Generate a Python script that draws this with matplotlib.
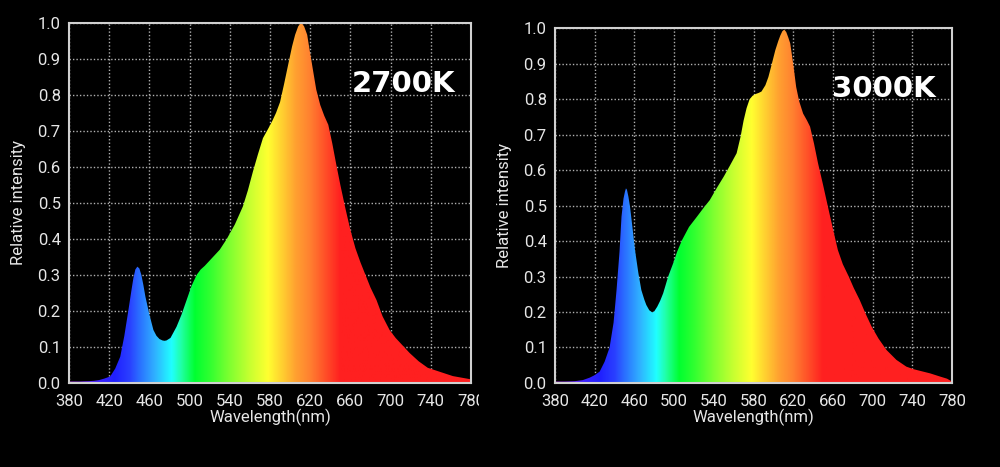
import numpy as np
import matplotlib
matplotlib.use("Agg")
import matplotlib.pyplot as plt
from matplotlib.colors import LinearSegmentedColormap
from matplotlib.patches import Polygon, Rectangle

# ---- data ----
wl_2700 = [380, 390, 400, 405, 410, 415, 421, 426, 431, 435, 439, 442, 444, 446, 448, 450,
           452, 454, 456, 460, 464, 467, 470, 473, 475, 477, 481, 487, 492, 497, 502, 507,
           511, 515, 524, 530, 537, 545, 553, 558, 563, 568, 573, 578, 582, 586, 590, 594,
           598, 602, 605, 608, 610, 611, 612, 614, 617, 620, 623, 626, 630, 634, 638, 642,
           646, 650, 655, 660, 665, 670, 675, 680, 686, 692, 699, 705, 710, 719, 728, 737,
           750, 762, 770, 780]
val_2700 = [0.004, 0.004, 0.005, 0.006, 0.008, 0.012, 0.018, 0.04, 0.073, 0.13, 0.20, 0.255,
            0.29, 0.315, 0.323, 0.318, 0.30, 0.272, 0.24, 0.19, 0.147, 0.131, 0.122, 0.118,
            0.117, 0.118, 0.125, 0.156, 0.19, 0.23, 0.27, 0.30, 0.315, 0.325, 0.352, 0.37,
            0.40, 0.44, 0.49, 0.535, 0.587, 0.635, 0.68, 0.705, 0.726, 0.75, 0.78, 0.83,
            0.883, 0.935, 0.967, 0.99, 0.998, 1.0, 0.998, 0.99, 0.967, 0.915, 0.865, 0.815,
            0.772, 0.742, 0.717, 0.665, 0.606, 0.55, 0.485, 0.425, 0.374, 0.335, 0.30, 0.265,
            0.23, 0.185, 0.147, 0.125, 0.11, 0.083, 0.06, 0.042, 0.03, 0.019, 0.015, 0.01]

wl_3000 = [380, 390, 400, 408, 415, 420, 425, 430, 435, 439, 442, 445, 447, 449, 450.5, 451.5,
           452.5, 454, 455.6, 458, 460.6, 464, 467, 470, 472, 475, 478, 480, 483, 486, 489,
           494, 499, 503, 508, 515, 523, 530, 536, 543, 550, 556, 563, 567, 570, 573, 576,
           579, 582, 585, 588, 592, 595, 598, 602, 605, 607, 609, 611, 613, 615, 617, 620,
           623, 626, 630, 634, 637, 641, 645, 650, 655, 660, 665, 670, 676, 681, 687, 693,
           699, 706, 714, 724, 734, 741, 748, 758, 768, 775, 780]
val_3000 = [0.004, 0.004, 0.005, 0.008, 0.015, 0.022, 0.032, 0.06, 0.10, 0.17, 0.262, 0.37,
            0.469, 0.52, 0.54, 0.549, 0.545, 0.525, 0.497, 0.44, 0.375, 0.31, 0.262, 0.235,
            0.22, 0.205, 0.199, 0.202, 0.215, 0.232, 0.253, 0.30, 0.337, 0.37, 0.403, 0.44,
            0.469, 0.495, 0.516, 0.55, 0.582, 0.612, 0.648, 0.695, 0.74, 0.775, 0.80, 0.81,
            0.815, 0.818, 0.822, 0.84, 0.863, 0.895, 0.939, 0.965, 0.98, 0.992, 0.997, 0.99,
            0.975, 0.958, 0.9, 0.835, 0.795, 0.76, 0.74, 0.723, 0.675, 0.62, 0.56, 0.497,
            0.435, 0.375, 0.335, 0.30, 0.268, 0.234, 0.195, 0.159, 0.125, 0.093, 0.065, 0.046,
            0.039, 0.034, 0.027, 0.018, 0.012, 0.004]

x_ticks = [380, 420, 460, 500, 540, 580, 620, 660, 700, 740, 780]
y_ticks = [0.0, 0.1, 0.2, 0.3, 0.4, 0.5, 0.6, 0.7, 0.8, 0.9, 1.0]
labels = ["2700K", "3000K"]

# spectral colour stops (wavelength, colour)
spec_wl = [380, 410, 425, 440, 450, 465, 482, 492, 505, 520, 540, 560, 578, 592, 606, 620, 635, 650, 780]
spec_col = ["#b040e0", "#3a20ff", "#2020ff", "#2a40ff", "#2a70ff", "#30b0ff", "#20ffff", "#20ffa0",
            "#00ff30", "#30ff30", "#80ff30", "#c8ff30", "#ffff30", "#ffd030", "#ffa030",
            "#ff8030", "#ff5028", "#ff2020", "#ff2020"]

cmap = LinearSegmentedColormap.from_list(
    "spec", [((w - 380) / 400, c) for w, c in zip(spec_wl, spec_col)], N=512)

fig = plt.figure(figsize=(10, 4.67), dpi=100, facecolor="black")
positions = [[0.069, 0.180, 0.402, 0.771], [0.555, 0.180, 0.397, 0.759]]
series = [(wl_2700, val_2700), (wl_3000, val_3000)]
label_pos = [(661, 0.83), (659, 0.83)]

tick_font = "Roboto"
txtcol = "#e6e6e6"

for pos, (wl, val), lab, lp in zip(positions, series, labels, label_pos):
    ax = fig.add_axes(pos)
    ax.set_facecolor("black")
    ax.set_xlim(380, 780)
    ax.set_ylim(0, 1.0)
    ax.set_xticks(x_ticks)
    ax.set_yticks(y_ticks)
    ax.set_xticklabels([str(t) for t in x_ticks], fontfamily=tick_font, fontsize=12, color=txtcol)
    ax.set_yticklabels([f"{t:.1f}" for t in y_ticks], fontfamily=tick_font, fontsize=12, color=txtcol)
    ax.tick_params(length=0, pad=6)
    ax.tick_params(axis="x", pad=8)
    ax.grid(True, color="#b0b0b0", linestyle=(0, (1, 1.5)), linewidth=1.0)
    ax.set_axisbelow(True)
    for s in ax.spines.values():
        s.set_color("#d0d0d0")
        s.set_linewidth(1.5)
        s.set_zorder(5)
    grad = np.linspace(0, 1, 800).reshape(1, -1)
    im = ax.imshow(grad, cmap=cmap, extent=[380, 780, 0, 1], aspect="auto",
                   origin="lower", zorder=3, interpolation="bilinear")
    verts = list(zip(wl, val)) + [(780, 0), (380, 0)]
    poly = Polygon(verts, closed=True, transform=ax.transData, facecolor="none", edgecolor="none")
    ax.add_patch(poly)
    im.set_clip_path(poly)
    ax.set_xlabel("Wavelength(nm)", fontfamily=tick_font, fontsize=12, color=txtcol, labelpad=0)
    ax.set_ylabel("Relative intensity", fontfamily=tick_font, fontsize=12, color=txtcol, labelpad=8)
    ax.text(lp[0], lp[1], lab, fontfamily="DejaVu Sans", fontweight="bold", fontsize=21,
            color="white", ha="left", va="center", zorder=6)

# the left panel's last tick label is cut off in the source
fig.add_artist(Rectangle((0.479, 0.08), 0.012, 0.1, transform=fig.transFigure,
                         facecolor="black", edgecolor="none", zorder=10))

fig.savefig("out.png", dpi=100, facecolor="black")
